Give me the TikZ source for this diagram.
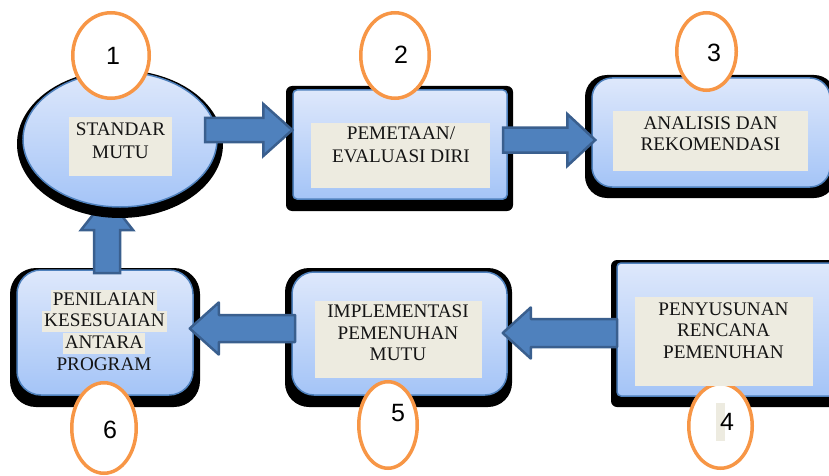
\documentclass[tikz,border=0pt]{standalone}
\usepackage{fontspec}
\setmainfont{Liberation Serif}
\newfontfamily\numfont{Liberation Sans}
\usetikzlibrary{shapes.geometric,calc}

\definecolor{boxtop}{RGB}{222,232,251}
\definecolor{boxbot}{RGB}{164,196,247}
\definecolor{boxline}{RGB}{79,129,189}
\definecolor{beige}{RGB}{237,235,224}
\definecolor{arrfill}{RGB}{79,129,189}
\definecolor{arrline}{RGB}{58,95,142}
\definecolor{ringcol}{RGB}{247,150,70}
\definecolor{ink}{RGB}{20,20,20}

\tikzset{
  stagebox/.style={draw=boxline, line width=1.5pt, top color=boxtop, bottom color=boxbot, inner sep=0pt},
  labelbg/.style={fill=beige, inner sep=0pt},
  lbl/.style={align=center, inner sep=0pt, text=ink},
  hilite/.style={fill=beige, text=ink, inner xsep=2pt, inner ysep=0pt, text height=15.5pt, text depth=5.5pt, anchor=base},
  ring/.style={ellipse, draw=ringcol, line width=3.5pt, fill=white, inner sep=0pt},
  num/.style={font=\numfont\fontsize{25}{25}\selectfont, inner sep=0pt},
  blockarr/.style={fill=arrfill, draw=arrline, line width=2.5pt},
}

% block arrow: [options]{tail}{tip}{shaft half width}{head half width}{head length}
\newcommand\blockarrow[6][]{%
  \coordinate (ba-base) at ($(#3)!#6!(#2)$);
  \draw[blockarr,#1] ($(#2)!#4!90:(#3)$) -- ($(ba-base)!#4!90:(#3)$)
    -- ($(ba-base)!#5!90:(#3)$) -- (#3) -- ($(ba-base)!#5!-90:(#3)$)
    -- ($(ba-base)!#4!-90:(#3)$) -- ($(#2)!#4!-90:(#3)$) -- cycle;
}

\begin{document}
\begin{tikzpicture}[x=1pt,y=-1pt, font=\fontsize{19.2}{21.5}\selectfont]
\useasboundingbox (0,0) rectangle (829,476);
\clip (0,0) rectangle (829,476);

% shadows behind the rectangular stages
\fill[black, rounded corners=6pt] (286,86) rectangle (513,211);
\fill[black, rounded corners=22pt] (585,75) rectangle (836,198);
\fill[black, rounded corners=26pt] (10,268) rectangle (200,407);
\fill[black, rounded corners=24pt] (285,268) rectangle (512,407);
\fill[black, rounded corners=6pt] (611,260) rectangle (846,407);

% stages
\node[stagebox, rounded corners=4pt, minimum width=214pt, minimum height=109pt] (s2) at (400,144.5) {};
\node[stagebox, rounded corners=20pt, minimum width=238pt, minimum height=109pt] (s3) at (711,132.5) {};
\node[stagebox, rounded corners=4pt, minimum width=223pt, minimum height=133pt] (s4) at (728.5,329.5) {};
\node[stagebox, rounded corners=22pt, minimum width=215pt, minimum height=123pt] (s5) at (399.5,333.5) {};
\node[stagebox, rounded corners=24pt, minimum width=176pt, minimum height=125pt] (s6) at (105,332.5) {};

% upward arrow from stage 6 back to stage 1 (passes under the ellipse)
\coordinate (a61s) at (107,273);
\coordinate (a61e) at (107,197);
\blockarrow{a61s}{a61e}{13pt}{26pt}{33pt}

% stage 1 ellipse with its shadow
\fill[black] (120,144) ellipse [x radius=103pt, y radius=74pt];
\node[stagebox, ellipse, minimum width=194pt, minimum height=135pt] (s1) at (120,139.5) {};

% arrows between stages
\coordinate (a12s) at (205,130);
\coordinate (a12e) at (a12s -| s2.west);
\blockarrow{a12s}{a12e}{12pt}{26pt}{29pt}

\coordinate (a23s) at (503,140);
\coordinate[xshift=4pt] (a23e) at (a23s -| s3.west);
\blockarrow{a23s}{a23e}{12.5pt}{26pt}{28pt}

\coordinate (a45s) at (617,333);
\coordinate[xshift=-5pt] (a45e) at (a45s -| s5.east);
\blockarrow[line join=round]{a45s}{a45e}{14pt}{25.5pt}{28pt}

\coordinate (a56s) at (295,328.5);
\coordinate[xshift=-4pt] (a56e) at (a56s -| s6.east);
\blockarrow[line join=round]{a56s}{a56e}{13.5pt}{26pt}{29pt}

% numbered rings
\node[ring, minimum width=76.5pt, minimum height=85.5pt] (r1) at (111,55.5) {};
\node[ring, minimum width=68.5pt, minimum height=85.5pt] (r2) at (395,55.5) {};
\node[ring, minimum width=59.5pt, minimum height=77.5pt] (r3) at (706.5,51.5) {};
\node[ring, minimum width=63.5pt, minimum height=84.5pt] (r4) at (720.5,426) {};
\node[ring, minimum width=58.5pt, minimum height=86.5pt] (r5) at (388,425) {};
\node[ring, minimum width=64.5pt, minimum height=90.5pt] (r6) at (104,428) {};

% label backgrounds
\node[labelbg, minimum width=103pt, minimum height=59pt] (b1) at (120.5,146.5) {};
\node[labelbg, minimum width=179pt, minimum height=65pt] (b2) at (400.5,155.5) {};
\node[labelbg, minimum width=195pt, minimum height=60pt] (b3) at (710.5,141) {};
\node[labelbg, minimum width=178pt, minimum height=89pt] (b4) at (724,341.5) {};
\node[labelbg, minimum width=167pt, minimum height=77pt] (b5) at (398.5,339.5) {};
\fill[beige] (716,403) rectangle (725,441);

% stage texts
\node[lbl, font=\fontsize{19.2}{23}\selectfont] (t1) at (120.5,140.5) {STANDAR\\MUTU};
\node[lbl, font=\fontsize{19.2}{23}\selectfont] (t2) at (401,144.5) {PEMETAAN/\\EVALUASI DIRI};
\node[lbl] (t3) at (710.5,133.5) {ANALISIS DAN\\REKOMENDASI};
\node[lbl] (t4) at (723.5,330.5) {PENYUSUNAN\\RENCANA\\PEMENUHAN};
\node[lbl] (t5) at (398,333) {IMPLEMENTASI\\PEMENUHAN\\MUTU};
\node[hilite] (t6a) at (104,305.4) {PENILAIAN};
\node[hilite] (t6b) at (104.5,326.9) {KESESUAIAN};
\node[hilite] (t6c) at (104,348.4) {ANTARA};
\node[hilite, fill=none] (t6d) at (104,370.4) {PROGRAM};

% ring numbers
\node[num] (n1) at (113,56) {1};
\node[num] (n2) at (401,55) {2};
\node[num] (n3) at (714,53) {3};
\node[num] (n4) at (727,422) {4};
\node[num] (n5) at (398,413) {5};
\node[num] (n6) at (110,430) {6};
\end{tikzpicture}
\end{document}
